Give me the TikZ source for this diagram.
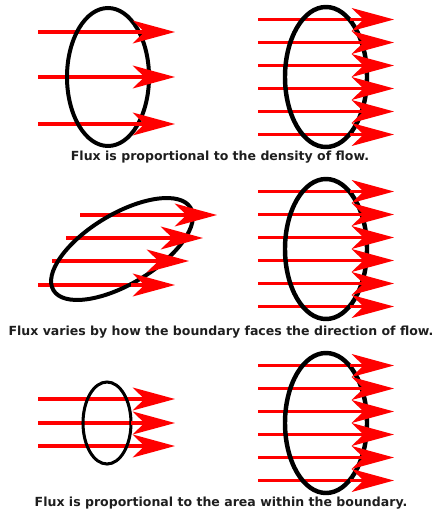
\documentclass[tikz,border=0pt]{standalone}
\usepackage{fontspec}
\usepackage{tikz}
\usetikzlibrary{arrows.meta}
\newfontfamily\capfont{DejaVu Sans}
\definecolor{flowred}{RGB}{255,0,0}
\definecolor{captext}{RGB}{30,30,30}

\begin{document}
\begin{tikzpicture}[x=0.03cm, y=-0.03cm,
  shaft/.style={draw=flowred, line width=3.4pt},
  flow/.style={shaft, -{Stealth[length=1.26cm, width=0.68cm, inset=0.34cm, fill=flowred]}},
  loop/.style={draw=black, line width=#1},
  loop/.default=3.4pt,
  caption/.style={font=\capfont\bfseries\fontsize{10.7}{12}\selectfont, text=captext},
]
\useasboundingbox (0,0) rectangle (437,510);

% shafts go behind the loops, heads in front
\foreach \y in {32,77,124,399,423,446}
  \draw[shaft] (38,\y) -- (140,\y);
\foreach \x/\y in {80/215, 66/238, 52/261, 38/285}
  \draw[shaft] (\x,\y) -- ++(100,0);
\foreach \c in {77,249,423}
  \foreach \k in {-2.5,-1.5,...,2.5}
    \draw[shaft] (258,\c+23*\k) -- (358,\c+23*\k);

% loops
\draw[loop] (108,77) ellipse [x radius=41, y radius=69];
\draw[loop, rotate around={31:(122,249)}] (122,249) ellipse [x radius=80, y radius=35];
\draw[loop=2.6pt] (107,423) ellipse [x radius=24, y radius=41];
\foreach \c in {77,249,423}
  \draw[loop=3.8pt] (326,\c) ellipse [x radius=41, y radius=70];

% heads
\foreach \y in {32,77,124,399,423,446}
  \draw[flow] (131,\y) -- (175,\y);
\foreach \x/\y in {80/215, 66/238, 52/261, 38/285}
  \draw[flow] (\x+93,\y) -- ++(44,0);
\foreach \c in {77,249,423}
  \foreach \k in {-2.5,-1.5,...,2.5}
    \draw[flow] (350,\c+23*\k) -- (394,\c+23*\k);

\node[caption] (cap1) at (220,157) {Flux is proportional to the density of flow.};
\node[caption] (cap2) at (221,332) {Flux varies by how the boundary faces the direction of flow.};
\node[caption] (cap3) at (221,503) {Flux is proportional to the area within the boundary.};
\end{tikzpicture}
\end{document}
